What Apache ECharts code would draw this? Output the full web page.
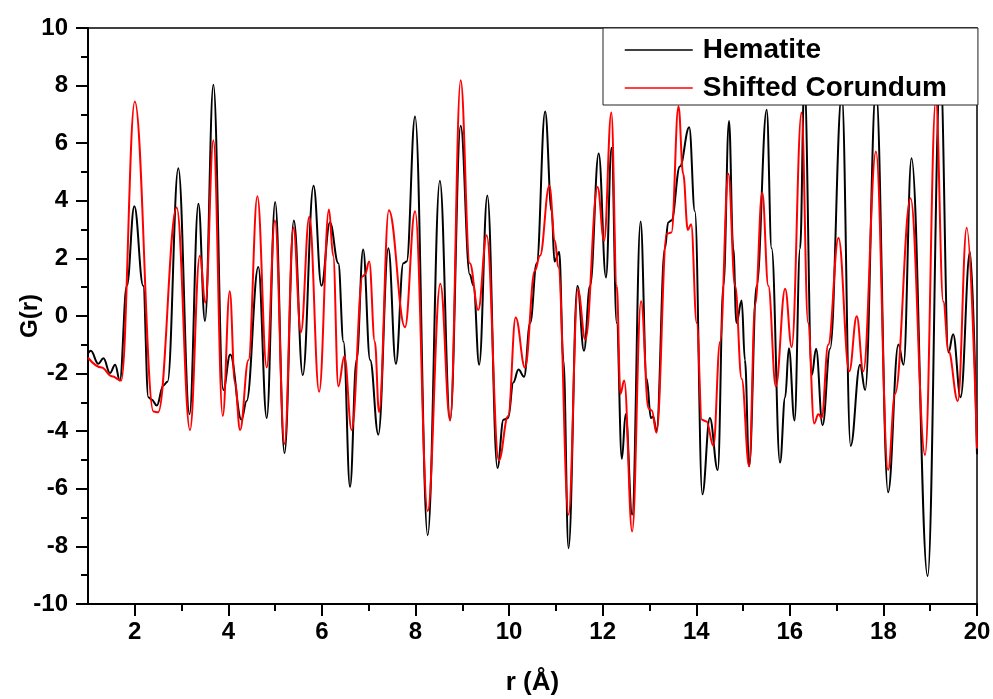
<!DOCTYPE html>
<html>
<head>
<meta charset="utf-8">
<script src="https://cdn.jsdelivr.net/npm/echarts@6/dist/echarts.min.js"></script>
<style>
  html, body { margin: 0; padding: 0; background: #fff; }
  #chart { width: 993px; height: 699px; }
</style>
</head>
<body>
<div id="chart"></div>
<script>
// r values (Å) and G(r)
const rHem = [1.00, 1.06, 1.22, 1.33, 1.47, 1.58, 1.68, 1.83, 1.99, 2.18, 2.29, 2.36, 2.47, 2.61, 2.70, 2.93, 3.17, 3.36, 3.50, 3.68, 3.89, 4.04, 4.28, 4.39, 4.64, 4.82, 5.00, 5.20, 5.40, 5.59, 5.82, 5.99, 6.17, 6.35, 6.46, 6.60, 6.74, 6.88, 7.03, 7.205, 7.42, 7.58, 7.74, 7.81, 7.99, 8.26, 8.52, 8.74, 8.965, 9.16, 9.24, 9.36, 9.535, 9.75, 9.88, 9.98, 10.09, 10.20, 10.32, 10.45, 10.59, 10.77, 10.91, 10.97, 11.07, 11.16, 11.27, 11.46, 11.60, 11.73, 11.915, 12.07, 12.19, 12.30, 12.41, 12.49, 12.63, 12.81, 12.94, 13.03, 13.08, 13.15, 13.33, 13.40, 13.47, 13.65, 13.85, 13.97, 14.13, 14.29, 14.46, 14.58, 14.70, 14.79, 14.86, 14.97, 15.04, 15.13, 15.29, 15.505, 15.61, 15.79, 15.90, 15.98, 16.10, 16.22, 16.31, 16.47, 16.56, 16.70, 16.86, 17.11, 17.30, 17.50, 17.61, 17.84, 18.10, 18.32, 18.43, 18.60, 18.945, 19.22, 19.39, 19.49, 19.65, 19.85, 20.00];
const gHem = [-1.30, -1.21, -1.66, -1.47, -1.98, -1.69, -2.24, 1.05, 3.81, 1.05, -2.82, -2.90, -3.11, -2.41, -2.28, 5.13, -3.41, 3.90, -0.17, 8.03, -2.57, -1.34, -3.60, -2.95, 1.70, -3.54, 3.96, -4.76, 3.32, -2.05, 4.52, 1.05, 3.25, 1.83, -0.89, -5.93, -1.53, 2.31, -1.53, -4.12, 2.35, -1.66, 1.83, 1.89, 6.93, -7.61, 4.70, -3.60, 6.61, 1.44, 1.05, -1.69, 4.18, -5.28, -3.60, -3.54, -2.31, -1.86, -2.11, -0.24, 1.83, 7.10, 3.64, 1.89, 2.22, -1.53, -8.06, 1.05, -1.21, 1.05, 5.64, 1.34, 5.84, -0.24, -4.96, -3.41, -6.90, 3.28, -2.18, -3.54, -3.50, -3.99, 2.35, 3.25, 3.32, 5.19, 6.55, 3.64, -6.19, -3.54, -5.35, 1.05, 6.77, 2.35, -0.24, 0.54, -1.53, -5.22, 1.05, 7.16, 2.35, -5.09, -2.82, -1.12, -3.63, 2.35, 8.20, -2.05, -1.14, -3.79, -1.14, 7.70, -4.51, -1.69, -2.57, 7.90, -6.12, -0.99, -1.69, 5.48, -9.03, 8.50, -1.27, -0.63, -2.82, 2.22, -4.80];

const rCor = [1.00, 1.29, 1.51, 1.71, 2.00, 2.40, 2.50, 2.895, 3.18, 3.39, 3.51, 3.68, 3.88, 4.03, 4.14, 4.25, 4.43, 4.62, 4.82, 4.995, 5.20, 5.39, 5.55, 5.73, 5.94, 6.15, 6.24, 6.35, 6.48, 6.635, 6.87, 6.92, 7.01, 7.13, 7.22, 7.43, 7.775, 7.99, 8.26, 8.53, 8.74, 8.965, 9.16, 9.34, 9.52, 9.78, 9.98, 10.14, 10.34, 10.55, 10.66, 10.86, 10.98, 11.05, 11.27, 11.47, 11.63, 11.89, 12.03, 12.185, 12.30, 12.38, 12.46, 12.63, 12.82, 12.98, 13.05, 13.15, 13.37, 13.47, 13.62, 13.72, 13.82, 13.89, 14.01, 14.12, 14.22, 14.365, 14.51, 14.685, 14.83, 14.97, 15.13, 15.26, 15.41, 15.54, 15.70, 15.90, 16.04, 16.25, 16.39, 16.52, 16.61, 16.68, 16.82, 17.04, 17.27, 17.43, 17.57, 17.84, 18.10, 18.25, 18.58, 18.89, 19.12, 19.28, 19.39, 19.59, 19.78, 20.00];
const gCor = [-1.45, -1.79, -2.09, -2.24, 7.45, -3.32, -3.34, 3.77, -3.96, 2.09, 0.47, 6.10, -3.47, 0.86, -2.31, -3.96, -1.53, 4.16, -1.79, 3.32, -4.44, 3.06, -0.56, 3.45, -2.63, 3.70, 2.09, -2.44, -1.40, -3.96, 1.38, 1.44, 1.89, -0.89, -3.34, 3.67, -0.39, 3.64, -6.77, 1.12, -3.63, 8.19, 1.83, 0.21, 2.80, -5.02, -3.47, -0.05, -1.79, 1.57, 2.09, 4.52, 2.61, 1.70, -6.90, 0.92, -0.82, 4.48, 2.61, 7.07, 1.05, -2.70, -2.24, -7.48, 0.51, -3.21, -3.28, -4.05, 2.86, 2.90, 7.28, 4.94, 2.99, 3.19, -0.24, -3.60, -3.66, -4.51, -0.89, 4.94, 1.05, -2.18, -5.22, 0.41, 4.29, 1.05, -2.44, 0.95, -1.08, 7.07, -0.24, -3.73, -3.41, -3.54, -1.00, 2.71, -1.92, -0.01, -1.92, 5.71, -5.35, -2.70, 4.09, -4.83, 7.50, 0.50, -1.21, -2.95, 3.06, -4.60];

const xMajor = [2, 4, 6, 8, 10, 12, 14, 16, 18, 20];
const xMinor = [3, 5, 7, 9, 11, 13, 15, 17, 19];

const chart = echarts.init(document.getElementById("chart"));
const font = "Liberation Sans, Arial, sans-serif";
const zip = (xs, ys) => xs.map((x, i) => [x, ys[i]]);

const option = {
  animation: false,
  grid: {
    left: 88, top: 28, right: 16, bottom: 95,
    outerBoundsMode: "none",
    show: true, borderColor: "#000", borderWidth: 1.5,
  },
  legend: {
    orient: "vertical",
    left: 603, top: 28,
    padding: [7, 31, 2, 21],
    itemWidth: 68, itemHeight: 14, itemGap: 8,
    backgroundColor: "#fff",
    borderColor: "#222", borderWidth: 1,
    itemStyle: { opacity: 0 },
    lineStyle: { width: 1.5 },
    textStyle: { fontFamily: font, fontWeight: "bold", fontSize: 28, color: "#000", lineHeight: 30, padding: [0, 0, 0, 5] },
    data: ["Hematite", "Shifted Corundum"],
  },
  xAxis: [
    {
      type: "value", min: 1, max: 20,
      name: "r (Å)", nameLocation: "middle", nameGap: 66, nameMoveOverlap: false,
      nameTextStyle: { fontFamily: font, fontWeight: "bold", fontSize: 26, color: "#000" },
      axisLine: { onZero: false, lineStyle: { color: "#000", width: 2 } },
      axisTick: { customValues: xMajor, length: 12, lineStyle: { color: "#000", width: 2 } },
      axisLabel: { customValues: xMajor, margin: 16, fontFamily: font, fontWeight: "bold", fontSize: 24, color: "#000" },
      splitLine: { show: false },
    },
    {
      // minor ticks at odd r
      type: "value", min: 1, max: 20, position: "bottom",
      axisLine: { show: false, onZero: false },
      axisTick: { customValues: xMinor, length: 7, lineStyle: { color: "#000", width: 2 } },
      axisLabel: { show: false },
      splitLine: { show: false },
    },
  ],
  yAxis: {
    type: "value", min: -10, max: 10, interval: 2,
    name: "G(r)", nameLocation: "middle", nameGap: 46, nameMoveOverlap: false,
    nameTextStyle: { fontFamily: font, fontWeight: "bold", fontSize: 24, color: "#000" },
    axisLine: { show: true, onZero: false, lineStyle: { color: "#000", width: 2 } },
    axisTick: { show: true, length: 12, lineStyle: { color: "#000", width: 2 } },
    minorTick: { show: true, splitNumber: 2, length: 7, lineStyle: { color: "#000", width: 2 } },
    axisLabel: { margin: 20, fontFamily: font, fontWeight: "bold", fontSize: 24, color: "#000" },
    splitLine: { show: false },
  },
  series: [
    {
      name: "Hematite", type: "line", symbol: "none",
      smooth: 0.4, smoothMonotone: "x",
      lineStyle: { color: "#000", width: 2 }, itemStyle: { color: "#000" },
      data: zip(rHem, gHem),
    },
    {
      name: "Shifted Corundum", type: "line", symbol: "none",
      smooth: 0.4, smoothMonotone: "x",
      lineStyle: { color: "#ff0000", width: 2 }, itemStyle: { color: "#ff0000" },
      data: zip(rCor, gCor),
    },
  ],
};
chart.setOption(option);
</script>
</body>
</html>
